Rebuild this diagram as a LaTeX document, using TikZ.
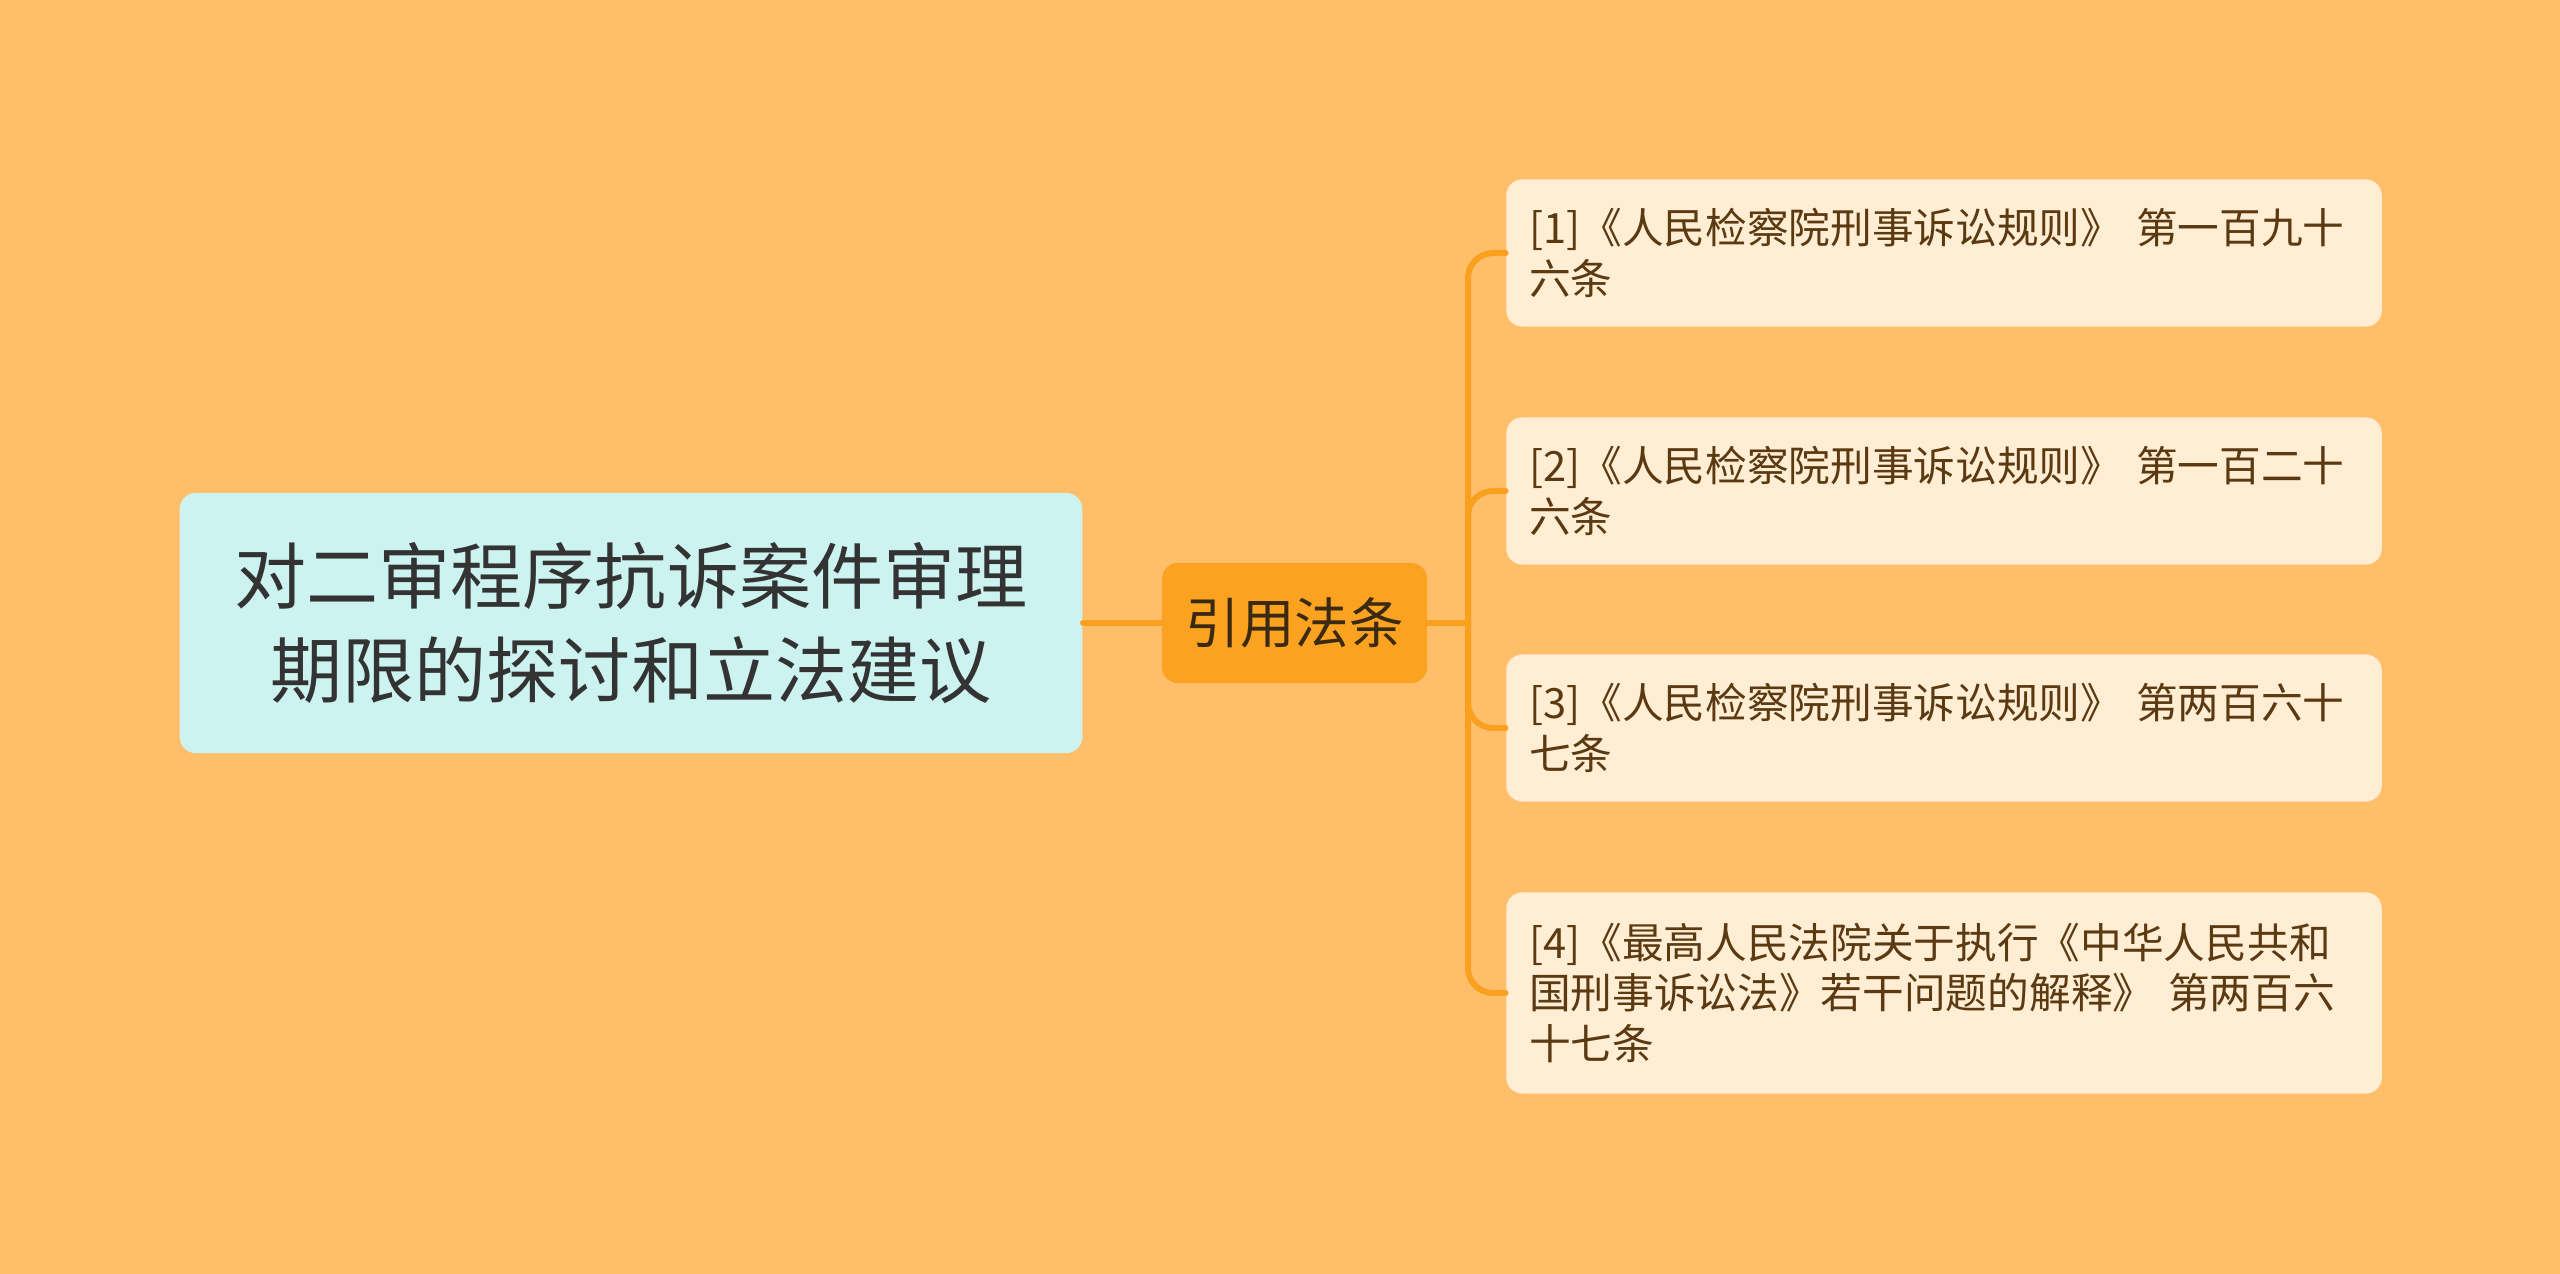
\documentclass[tikz,border=0pt]{standalone}
\usepackage{fontspec}
\newfontfamily\cjk{Noto Sans CJK SC}
\definecolor{bgorange}{HTML}{FEBE6A}
\definecolor{rootcyan}{HTML}{CCF3EF}
\definecolor{roottext}{HTML}{333333}
\definecolor{midorange}{HTML}{FBA220}
\definecolor{midtext}{HTML}{3B2A12}
\definecolor{leafcream}{HTML}{FFEDD4}
\definecolor{leaftext}{HTML}{5B3A12}
\definecolor{linkorange}{HTML}{F9A11F}
\begin{document}
\begin{tikzpicture}[x=0.01cm, y=-0.01cm, line join=round, line cap=round,
    root/.style={fill=rootcyan, rounded corners=0.16cm, minimum width=9.02cm, minimum height=2.6cm,
        align=center, text=roottext, font=\cjk\fontsize{20.5}{26.5}\selectfont},
    mid/.style={fill=midorange, rounded corners=0.16cm, minimum width=2.65cm, minimum height=1.2cm,
        text=midtext, font=\cjk\fontsize{15.5}{18}\selectfont},
    leaf/.style={fill=leafcream, rounded corners=0.16cm, text width=8.29cm, inner xsep=0.23cm,
        minimum height=1.47cm, align=left, text=leaftext, font=\cjk\fontsize{11.85}{14.5}\selectfont},
    link/.style={draw=linkorange, line width=1.7pt}]
    \def\spine{1468}
    \fill[bgorange] (0,0) rectangle (2560,1274);
    \node[root] (root) at (631,623) {对二审程序抗诉案件审理\\期限的探讨和立法建议};
    \node[mid] (cite) at (1294.5,623) {引用法条};
    \node[leaf] (law1) at (1944,253) {[1]《人民检察院刑事诉讼规则》 第一百九十\\六条};
    \node[leaf] (law2) at (1944,491) {[2]《人民检察院刑事诉讼规则》 第一百二十\\六条};
    \node[leaf] (law3) at (1944,728) {[3]《人民检察院刑事诉讼规则》 第两百六十\\七条};
    \node[leaf, minimum height=2.01cm] (law4) at (1944,993) {[4]《最高人民法院关于执行《中华人民共和\\国刑事诉讼法》若干问题的解释》 第两百六\\十七条};
    \coordinate (fork) at (\spine,623);
    \draw[link] (root.east) -- (cite.west);
    \draw[link] (cite.east) -- (fork);
    \foreach \n in {law1,law2,law3,law4}
        \draw[link, rounded corners=0.25cm] (fork) |- (\n.west);
\end{tikzpicture}
\end{document}
